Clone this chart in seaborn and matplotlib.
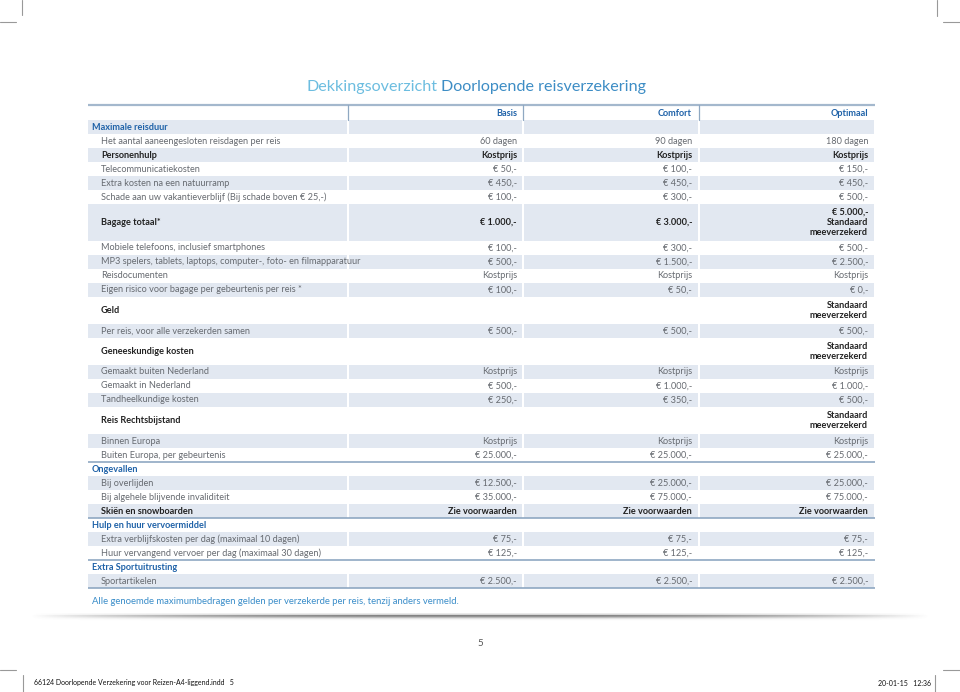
import numpy as np
import matplotlib.pyplot as plt
import seaborn as sns

# table content, read from the page
labels = [
    'Maximale reisduur',
    'Het aantal aaneengesloten reisdagen per reis',
    'Personenhulp',
    'Telecommunicatiekosten',
    'Extra kosten na een natuurramp',
    'Schade aan uw vakantieverblijf (Bij schade boven € 25,-)',
    'Bagage totaal*',
    'Mobiele telefoons, inclusief smartphones',
    'MP3 spelers, tablets, laptops, computer-, foto- en filmapparatuur',
    'Reisdocumenten',
    'Eigen risico voor bagage per gebeurtenis per reis *',
    'Geld',
    'Per reis, voor alle verzekerden samen',
    'Geneeskundige kosten',
    'Gemaakt buiten Nederland',
    'Gemaakt in Nederland',
    'Tandheelkundige kosten',
    'Reis Rechtsbijstand',
    'Binnen Europa',
    'Buiten Europa, per gebeurtenis',
    'Ongevallen',
    'Bij overlijden',
    'Bij algehele blijvende invaliditeit',
    'Skiën en snowboarden',
    'Hulp en huur vervoermiddel',
    'Extra verblijfskosten per dag (maximaal 10 dagen)',
    'Huur vervangend vervoer per dag (maximaal 30 dagen)',
    'Extra Sportuitrusting',
    'Sportartikelen',
]
kinds = ['section', 'item', 'sub', 'item', 'item', 'item', 'sub', 'item', 'item', 'item',
         'item', 'sub', 'item', 'sub', 'item', 'item', 'item', 'sub', 'item', 'item',
         'section', 'item', 'item', 'sub', 'section', 'item', 'item', 'section', 'item']
basis = ['', '60 dagen', 'Kostprijs', '€ 50,-', '€ 450,-', '€ 100,-', '€ 1.000,-',
         '€ 100,-', '€ 500,-', 'Kostprijs', '€ 100,-', '', '€ 500,-', '', 'Kostprijs',
         '€ 500,-', '€ 250,-', '', 'Kostprijs', '€ 25.000,-', '', '€ 12.500,-',
         '€ 35.000,-', 'Zie voorwaarden', '', '€ 75,-', '€ 125,-', '', '€ 2.500,-']
comfort = ['', '90 dagen', 'Kostprijs', '€ 100,-', '€ 450,-', '€ 300,-', '€ 3.000,-',
           '€ 300,-', '€ 1.500,-', 'Kostprijs', '€ 50,-', '', '€ 500,-', '', 'Kostprijs',
           '€ 1.000,-', '€ 350,-', '', 'Kostprijs', '€ 25.000,-', '', '€ 25.000,-',
           '€ 75.000,-', 'Zie voorwaarden', '', '€ 75,-', '€ 125,-', '', '€ 2.500,-']
optimaal = ['', '180 dagen', 'Kostprijs', '€ 150,-', '€ 450,-', '€ 500,-',
            '€ 5.000,-\nStandaard\nmeeverzekerd',
            '€ 500,-', '€ 2.500,-', 'Kostprijs', '€ 0,-', 'Standaard\nmeeverzekerd',
            '€ 500,-', 'Standaard\nmeeverzekerd', 'Kostprijs', '€ 1.000,-', '€ 500,-',
            'Standaard\nmeeverzekerd', 'Kostprijs', '€ 25.000,-', '', '€ 25.000,-',
            '€ 75.000,-', 'Zie voorwaarden', '', '€ 75,-', '€ 125,-', '', '€ 2.500,-']
plans = ['Basis', 'Comfort', 'Optimaal']
rule_after = ['Buiten Europa, per gebeurtenis', 'Skiën en snowboarden',
              'Huur vervangend vervoer per dag (maximaal 30 dagen)', 'Sportartikelen']

title_a = 'Dekkingsoverzicht'
title_b = 'Doorlopende reisverzekering'
footnote = 'Alle genoemde maximumbedragen gelden per verzekerde per reis, tenzij anders vermeld.'
page_no = '5'
slug_left = '66124 Doorlopende Verzekering voor Reizen-A4-liggend.indd   5'
slug_right = '20-01-15   12:36'

sns.set_theme(style='white')
plt.rcParams['font.family'] = ['Lato', 'DejaVu Sans']

SHADE = '#e2e8f1'
GREY = '#666a70'
BLUE = '#1f62a8'
RULE = '#8fa8c2'
col_edges = [88, 348, 523, 699, 875]
val_right = [517, 692, 868]
FS = 6.6

fig = plt.figure(figsize=(9.6, 6.92), dpi=100)
ax = fig.add_axes([0, 0, 1, 1])
ax.set_xlim(0, 960)
ax.set_ylim(692, 0)
ax.axis('off')

# title
ax.text(437, 87, title_a, ha='right', va='center', fontsize=11.6,
        color='#6cbde0', fontweight='normal')
ax.text(441, 87, title_b, ha='left', va='center', fontsize=11.6,
        color='#3d8dc5', fontweight='normal')

# header
ax.plot([88, 875], [105, 105], color='#a4b8cd', lw=1.6, solid_capstyle='butt')
for x in col_edges[1:4]:
    ax.plot([x, x], [105, 120], color=RULE, lw=0.9)
for p, xr in zip(plans, val_right):
    ax.text(xr, 113, p, ha='right', va='center', fontsize=FS,
            fontweight='bold', color=BLUE)

# rows
heights = {1: 14, 2: 27, 3: 37}
y = 120
shade = True
for i, lab in enumerate(labels):
    vals = [basis[i], comfort[i], optimaal[i]]
    nl = max(v.count('\n') + 1 for v in vals)
    h = heights[nl]
    kind = kinds[i]
    if kind == 'section' and i > 0:
        shade = False
    if shade:
        for c in range(4):
            ax.barh(y + h / 2, col_edges[c + 1] - col_edges[c] - 1.5,
                    left=col_edges[c] + (0.75 if c else 0), height=h,
                    color=SHADE, linewidth=0)
    yc = y + h / 2
    if kind == 'section':
        ax.text(92, yc, lab, ha='left', va='center', fontsize=FS,
                fontweight='bold', color=BLUE)
    elif kind == 'sub':
        ax.text(101, yc, lab, ha='left', va='center', fontsize=FS,
                fontweight='bold', color='#222222')
    else:
        ax.text(101, yc, lab, ha='left', va='center', fontsize=FS, color=GREY)
    for v, xr in zip(vals, val_right):
        if v:
            ax.text(xr, yc, v, ha='right', va='center', fontsize=FS,
                    linespacing=1.2,
                    fontweight='bold' if kind == 'sub' else 'normal',
                    color='#222222' if kind == 'sub' else GREY)
    y += h
    if lab in rule_after:
        ax.plot([88, 875], [y, y], color=RULE, lw=1.2, solid_capstyle='butt')
    shade = not shade

ax.text(92, 602, footnote, ha='left', va='center', fontsize=FS + 0.2, color='#3a8dc9')

# page shadow rule
xs = np.linspace(30, 930, 400)
prof = np.clip(1 - np.abs((xs - 480) / 450) ** 2.5, 0, 1)
grad = np.zeros((14, xs.size, 4))
for r in range(14):
    fall = np.exp(-((r - 3) / 2.5) ** 2) if r >= 3 else (r / 3) * 0.5
    grad[r, :, :3] = 0.42
    grad[r, :, 3] = prof * fall * 0.85
ax.imshow(grad, extent=[30, 930, 626, 612], aspect='auto', interpolation='bilinear')
ax.set_xlim(0, 960)
ax.set_ylim(692, 0)

ax.text(480, 643, page_no, ha='center', va='center', fontsize=7, color='#555555')

# crop marks and slug
mk = dict(color='#999999', lw=0.8)
ax.plot([22, 22], [0, 15], **mk)
ax.plot([0, 16], [22, 22], **mk)
ax.plot([937, 937], [0, 16], **mk)
ax.plot([943, 960], [22, 22], **mk)
ax.plot([0, 16], [670, 670], **mk)
ax.plot([23, 23], [675, 692], **mk)
ax.plot([935, 935], [675, 692], **mk)
ax.plot([943, 960], [670, 670], **mk)
ax.text(34, 683, slug_left, ha='left', va='center', fontsize=5, color='#111111')
ax.text(931, 683, slug_right, ha='right', va='center', fontsize=5, color='#111111')

fig.savefig('out.png', dpi=100)
